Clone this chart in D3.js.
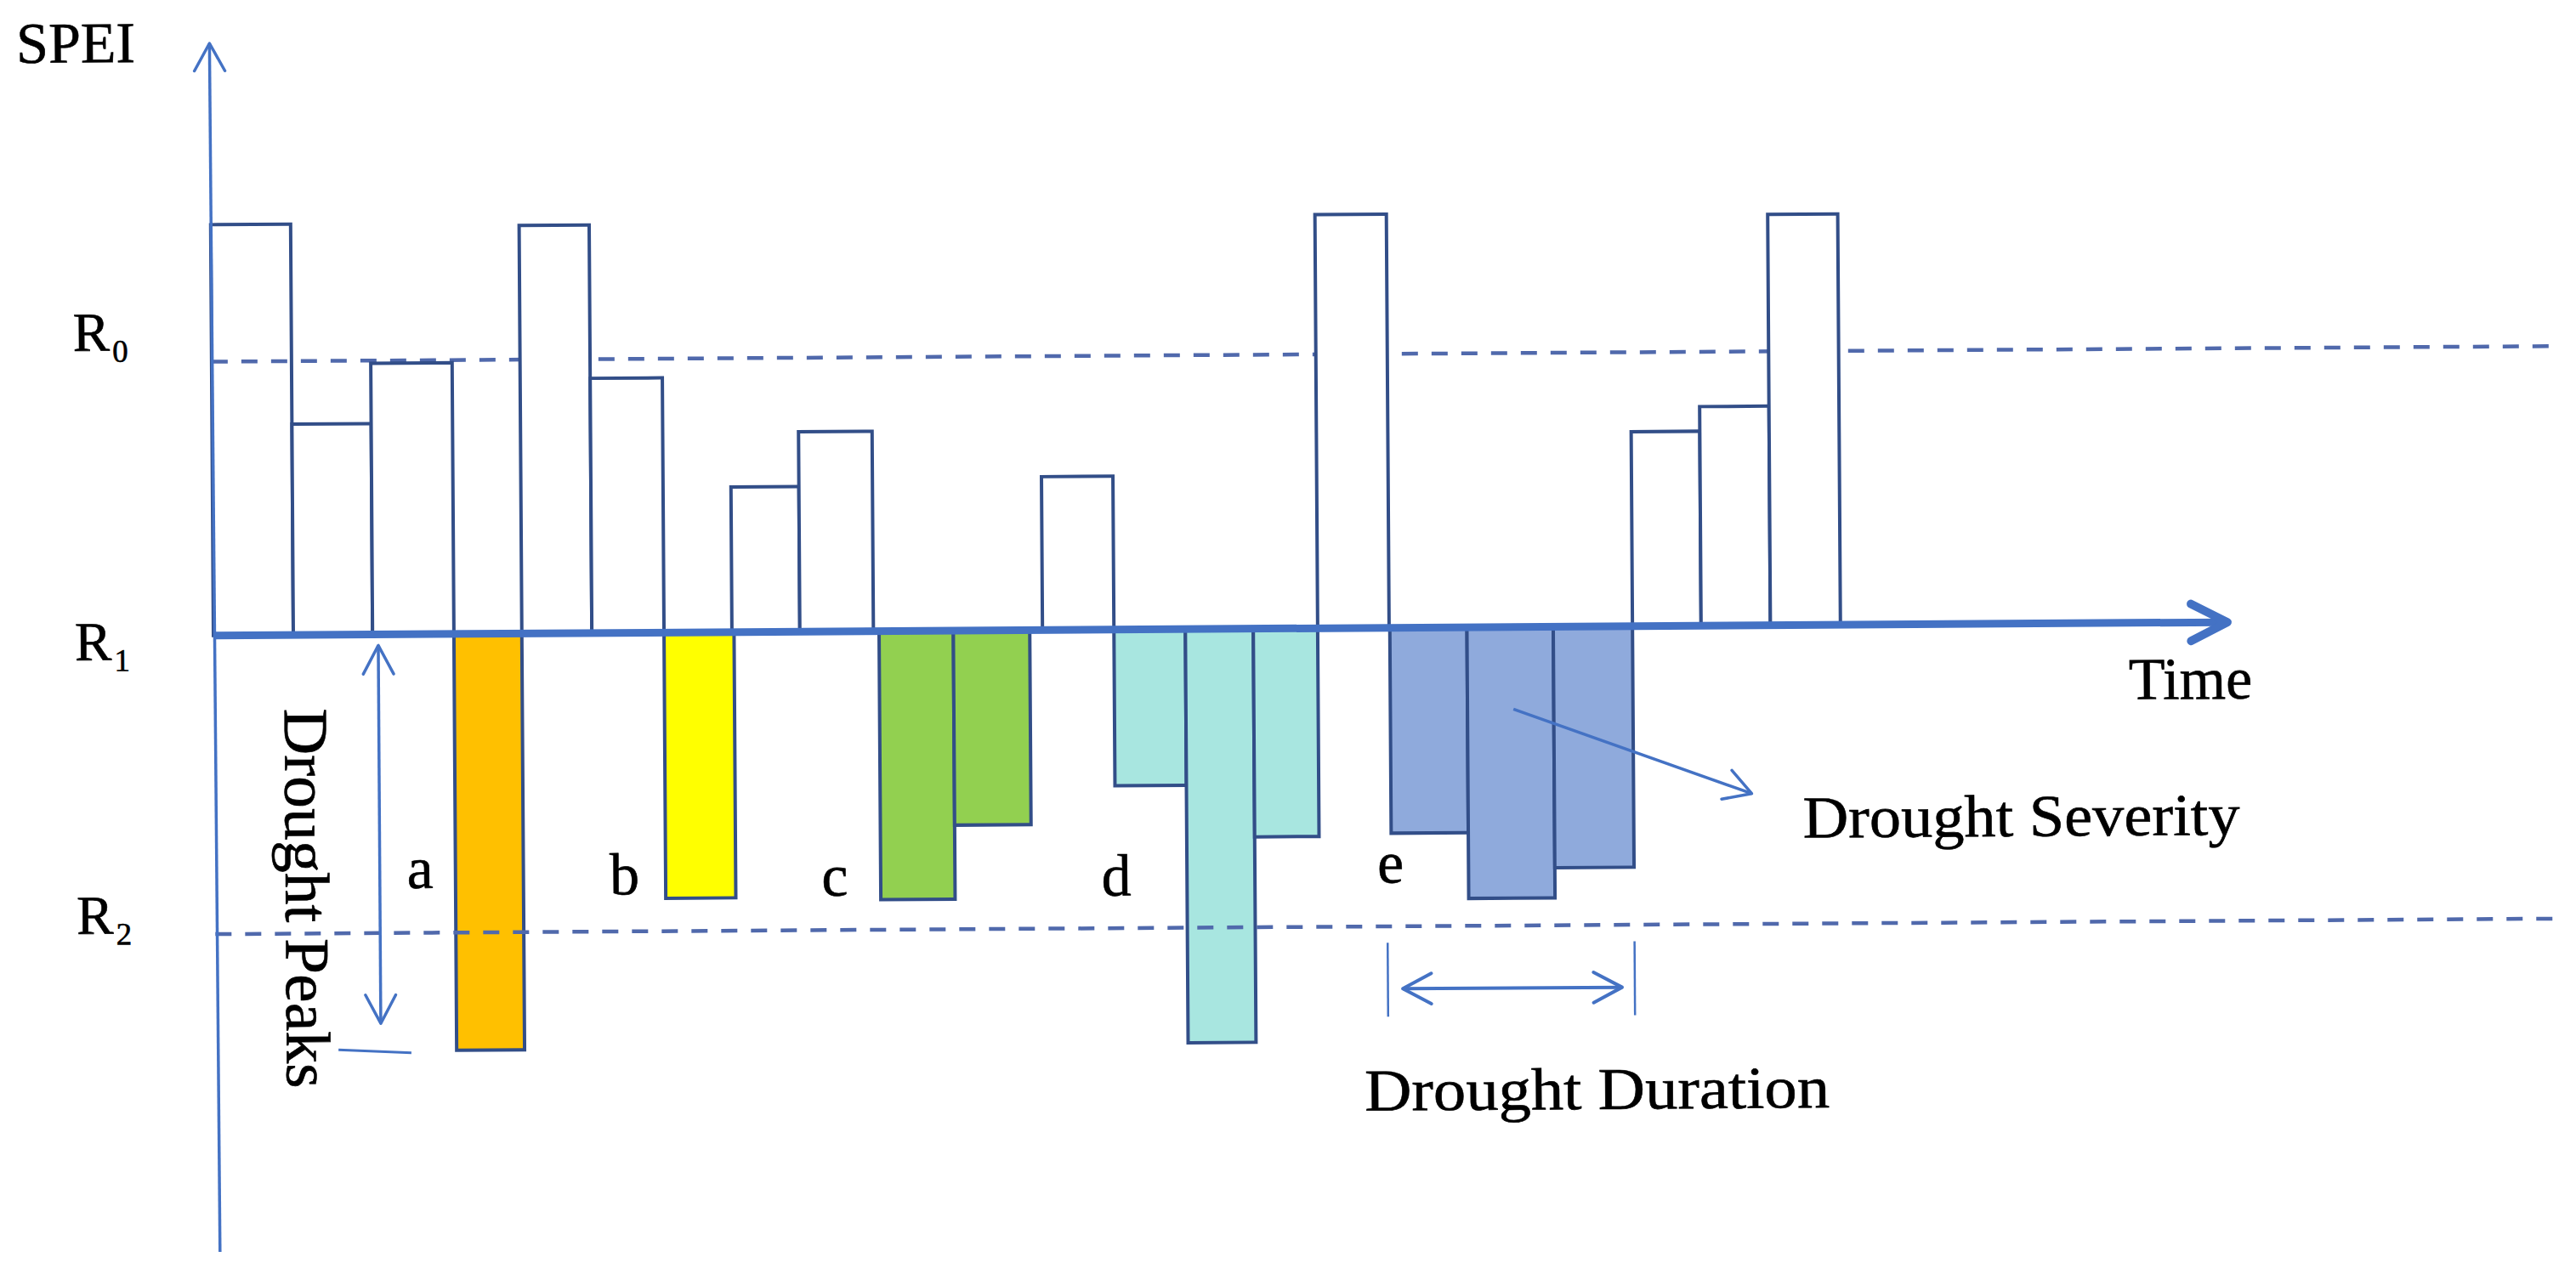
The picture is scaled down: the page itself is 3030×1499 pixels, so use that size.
<!DOCTYPE html>
<html>
<head>
<meta charset="utf-8">
<script src="https://cdn.jsdelivr.net/npm/d3@7"></script>
<style>
  html, body { margin: 0; padding: 0; background: #ffffff; }
  svg { display: block; }
  text { font-family: "Liberation Serif", "Times New Roman", serif; fill: #000; stroke: #000; stroke-width: 0.6px; }
</style>
</head>
<body>
<svg id="chart" width="3030" height="1499"></svg>
<script>
// ---------------- DATA ----------------
// time periods (arbitrary time units) and SPEI values of each period
const periodStart = [0.00, 1.13, 2.25, 3.40, 4.36, 5.35, 6.37, 7.33, 8.29, 9.41, 10.46, 11.72, 12.73, 13.74, 14.70, 15.61, 16.63, 17.72, 18.94, 20.06, 21.03, 22.01];
const periodEnd   = [1.13, 2.25, 3.40, 4.36, 5.35, 6.37, 7.36, 8.29, 9.33, 10.46, 11.54, 12.73, 13.74, 14.70, 15.61, 16.62, 17.72, 18.94, 20.06, 21.03, 22.01, 23.00];
const speiValues  = [1.50, 0.77, 0.99, -1.52, 1.49, 0.93, -0.97, 0.53, 0.73, -0.98, -0.71, 0.56, -0.57, -1.51, -0.76, 1.51, -0.75, -0.99, -0.88, 0.71, 0.80, 1.50];
const droughtEvent = ["", "", "", "a", "", "", "b", "", "", "c", "c", "", "d", "d", "d", "", "e", "e", "e", "", "", ""];
const eventNames  = ["a", "b", "c", "d", "e"];
const eventColors = ["#FFC000", "#FFFF00", "#92D050", "#A8E6E0", "#8FAADC"];
// event label anchors [time, SPEI]
const eventLabelT = [2.90, 5.79, 8.76, 12.74, 16.62];
const eventLabelV = [-0.927, -0.955, -0.965, -0.971, -0.931];
// thresholds
const thresholdNames = ["0", "1", "2"];
const thresholdValues = [1.0, 0.0, -1.09];
const thresholdLabelV = [1.042, -0.087, -1.086];

// axis extents
const timeDomain = [0, 28.47];
const speiDomain = [-2.25, 2.162];
const dashedEnd = 33.2;

// ---------------- SCALES ----------------
const svg = d3.select("#chart");
svg.append("rect").attr("width", 3030).attr("height", 1499).attr("fill", "#fff");

const xs = d3.scaleLinear().domain(timeDomain).range([251, 2620]);
const ys = d3.scaleLinear().domain(speiDomain).range([1473, 51]);

const AX = "#4472C4";
const BAR_STROKE = "#324E88";
const DASH = "#5069AC";

const g = svg.append("g").attr("transform", `rotate(-0.38, ${xs(0)}, ${ys(0)})`);

function chevron(parent, x, y, angleDeg, len, spreadDeg, w, color) {
  const a = angleDeg * Math.PI / 180;
  const s = spreadDeg * Math.PI / 180;
  const p1 = [x - len * Math.cos(a - s), y - len * Math.sin(a - s)];
  const p2 = [x - len * Math.cos(a + s), y - len * Math.sin(a + s)];
  parent.append("path")
    .attr("d", d3.line()([p1, [x, y], p2]))
    .attr("fill", "none").attr("stroke", color).attr("stroke-width", w)
    .attr("stroke-linecap", "round").attr("stroke-linejoin", "round");
}

// R0 dashed line (under bars)
g.append("line")
  .attr("x1", xs(0)).attr("x2", xs(dashedEnd))
  .attr("y1", ys(thresholdValues[0])).attr("y2", ys(thresholdValues[0]))
  .attr("stroke", DASH).attr("stroke-width", 4.5).attr("stroke-dasharray", "19,16");

// ---------------- BARS ----------------
const bars = speiValues.map((v, i) => ({
  v, t0: periodStart[i], t1: periodEnd[i], ev: droughtEvent[i], i
}));
g.selectAll("rect.bar").data(bars).enter().append("rect")
  .attr("class", "bar")
  .attr("x", d => xs(d.t0))
  .attr("width", d => xs(d.t1) - xs(d.t0))
  .attr("y", d => ys(Math.max(d.v, 0)))
  .attr("height", d => Math.abs(ys(d.v) - ys(0)))
  .attr("fill", d => d.ev ? eventColors[eventNames.indexOf(d.ev)] : (d.i === 0 ? "none" : "#fff"))
  .attr("stroke", BAR_STROKE).attr("stroke-width", 4);

// R2 dashed line (over bars)
g.append("line")
  .attr("x1", xs(0)).attr("x2", xs(dashedEnd))
  .attr("y1", ys(thresholdValues[2])).attr("y2", ys(thresholdValues[2]))
  .attr("stroke", DASH).attr("stroke-width", 4.5).attr("stroke-dasharray", "19,16");

// ---------------- AXES ----------------
// vertical SPEI axis
g.append("line")
  .attr("x1", xs(0)).attr("x2", xs(0) + 3)
  .attr("y1", ys(speiDomain[1])).attr("y2", ys(speiDomain[0]))
  .attr("stroke", AX).attr("stroke-width", 3.5);
chevron(g, xs(0), ys(speiDomain[1]), -90, 37, 29, 3.5, AX);

// time axis (R1)
g.append("line")
  .attr("x1", xs(0)).attr("x2", xs(timeDomain[1]) - 4)
  .attr("y1", ys(0)).attr("y2", ys(0))
  .attr("stroke", AX).attr("stroke-width", 9);
chevron(g, xs(timeDomain[1]), ys(0), 0, 48, 27, 10, AX);

// ---------------- LABELS ----------------
g.append("text").attr("x", xs(-2.73)).attr("y", ys(2.095))
  .attr("font-size", 68).text("SPEI");

thresholdNames.forEach((n, i) => {
  const t = g.append("text").attr("x", xs(-1.96)).attr("y", ys(thresholdLabelV[i]))
    .attr("font-size", 65);
  t.append("tspan").text("R");
  t.append("tspan").attr("dx", 3).attr("dy", 13).attr("font-size", 37).text(n);
});

eventNames.forEach((n, i) => {
  g.append("text").attr("x", xs(eventLabelT[i])).attr("y", ys(eventLabelV[i]))
    .attr("text-anchor", "middle").attr("font-size", 70).text(n);
});

g.append("text").attr("x", xs(27.07)).attr("y", ys(-0.279))
  .attr("font-size", 70).text("Time");

// Drought peaks annotation
const peakT = 2.33;
const peakValue = speiValues[3];
g.append("line")
  .attr("x1", xs(peakT)).attr("x2", xs(peakT))
  .attr("y1", ys(-0.04)).attr("y2", ys(-1.42))
  .attr("stroke", AX).attr("stroke-width", 3.5);
chevron(g, xs(peakT), ys(-0.04), -90, 38, 28, 3.5, AX);
chevron(g, xs(peakT), ys(-1.42), 90, 38, 28, 3.5, AX);
g.append("line")
  .attr("x1", xs(1.73)).attr("x2", xs(2.76))
  .attr("y1", ys(peakValue + 0.005)).attr("y2", ys(peakValue - 0.008))
  .attr("stroke", AX).attr("stroke-width", 3);
g.append("text")
  .attr("transform", `translate(${xs(1.0)}, ${ys(-0.268)}) rotate(90)`)
  .attr("font-size", 74).attr("textLength", 447).attr("lengthAdjust", "spacingAndGlyphs")
  .text("Drought Peaks");

// Drought severity annotation
const sevStart = [xs(18.37), ys(-0.30)];
const sevEnd = [xs(21.73), ys(-0.614)];
g.append("line")
  .attr("x1", sevStart[0]).attr("y1", sevStart[1])
  .attr("x2", sevEnd[0]).attr("y2", sevEnd[1])
  .attr("stroke", AX).attr("stroke-width", 3.5);
const sevAng = Math.atan2(sevEnd[1] - sevStart[1], sevEnd[0] - sevStart[0]) * 180 / Math.PI;
chevron(g, sevEnd[0], sevEnd[1], sevAng, 36, 30, 3.5, AX);
g.append("text").attr("x", xs(22.45)).attr("y", ys(-0.776))
  .attr("font-size", 70).attr("textLength", 514).attr("lengthAdjust", "spacingAndGlyphs")
  .text("Drought Severity");

// Drought duration annotation
const eStart = 16.57, eEnd = 20.06;
[eStart, eEnd].forEach(t => {
  g.append("line")
    .attr("x1", xs(t)).attr("x2", xs(t))
    .attr("y1", ys(-1.15)).attr("y2", ys(-1.42))
    .attr("stroke", AX).attr("stroke-width", 2.5);
});
g.append("line")
  .attr("x1", xs(16.78)).attr("x2", xs(19.88))
  .attr("y1", ys(-1.318)).attr("y2", ys(-1.318))
  .attr("stroke", AX).attr("stroke-width", 4);
chevron(g, xs(16.78), ys(-1.318), 180, 38, 28, 4, AX);
chevron(g, xs(19.88), ys(-1.318), 0, 38, 28, 4, AX);
g.append("text").attr("x", xs(16.23)).attr("y", ys(-1.762))
  .attr("font-size", 70).attr("textLength", 547).attr("lengthAdjust", "spacingAndGlyphs")
  .text("Drought Duration");
</script>
</body>
</html>
